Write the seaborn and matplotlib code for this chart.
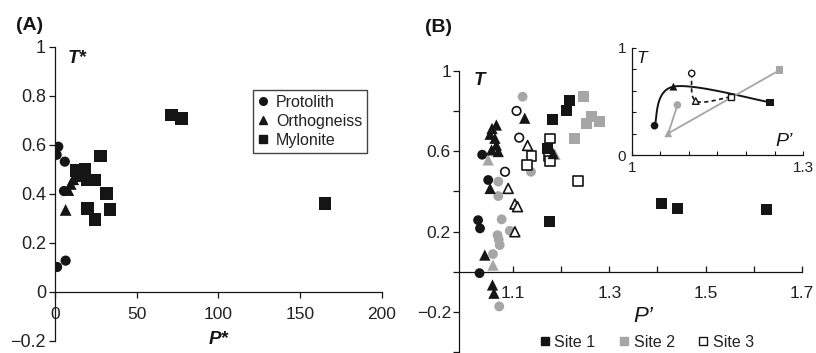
import numpy as np
import pandas as pd
import matplotlib
matplotlib.use("Agg")
import matplotlib.pyplot as plt
from matplotlib.lines import Line2D
import seaborn as sns

sns.set_theme(style="white")
plt.rcParams["font.family"] = ["Liberation Sans", "DejaVu Sans"]

BLACK = "#151515"
GRAY = "#a6a6a6"
TEXT = "#222222"

# ---------------- Panel A: P* vs T* by rock type ----------------
protolith_p = [2.0, 1.0, 6.0, 5.5, 1.3, 6.5]
protolith_t = [0.593, 0.560, 0.532, 0.412, 0.102, 0.128]
ortho_p = [6.5, 8.1, 9.6, 11.2, 12.8]
ortho_t = [0.335, 0.416, 0.441, 0.460, 0.478]
mylo_p = [71.4, 77.5, 165.1, 28.0, 18.3, 12.8, 15.3, 19.8, 24.5, 31.6, 33.6, 19.8, 24.5]
mylo_t = [0.722, 0.709, 0.362, 0.555, 0.500, 0.495, 0.473, 0.457, 0.457, 0.403, 0.338, 0.342, 0.297]

# ---------------- Panel B: P' vs T by site and rock type ----------------
s1_circ_p = [1.0355, 1.048, 1.027, 1.031, 1.030]
s1_circ_t = [0.583, 0.457, 0.257, 0.216, -0.007]
s1_tri_p = [1.056, 1.065, 1.052, 1.062, 1.065, 1.069, 1.055, 1.124, 1.052, 1.041, 1.057, 1.060, 1.183]
s1_tri_t = [0.714, 0.731, 0.685, 0.665, 0.631, 0.599, 0.607, 0.765, 0.415, 0.083, -0.066, -0.107, 0.589]
s1_sq_p = [1.2165, 1.211, 1.182, 1.1715, 1.176, 1.409, 1.442, 1.626]
s1_sq_t = [0.852, 0.803, 0.757, 0.615, 0.249, 0.342, 0.317, 0.312]

s2_circ_p = [1.1196, 1.137, 1.069, 1.069, 1.076, 1.093, 1.0675, 1.070, 1.072, 1.058, 1.071]
s2_circ_t = [0.872, 0.498, 0.449, 0.377, 0.261, 0.204, 0.182, 0.160, 0.133, 0.088, -0.173]
s2_tri_p = [1.048, 1.058, 1.187]
s2_tri_t = [0.557, 0.033, 0.585]
s2_sq_p = [1.247, 1.263, 1.279, 1.253, 1.228]
s2_sq_t = [0.874, 0.775, 0.748, 0.738, 0.664]

s3_circ_p = [1.107, 1.1125, 1.083]
s3_circ_t = [0.801, 0.668, 0.498]
s3_tri_p = [1.130, 1.0896, 1.1035, 1.109, 1.1035]
s3_tri_t = [0.629, 0.415, 0.337, 0.324, 0.199]
s3_sq_p = [1.176, 1.138, 1.128, 1.175, 1.176, 1.235]
s3_sq_t = [0.664, 0.578, 0.532, 0.575, 0.553, 0.453]

# Site means (protolith -> orthogneiss -> mylonite) for the inset
mean_s1_p = [1.040, 1.073, 1.242]
mean_s1_t = [0.273, 0.637, 0.491]
mean_s2_p = [1.080, 1.064, 1.259]
mean_s2_t = [0.466, 0.202, 0.792]
mean_s3_p = [1.105, 1.112, 1.174]
mean_s3_t = [0.761, 0.503, 0.543]

rock_types = ["Protolith", "Orthogneiss", "Mylonite"]
rock_markers = {"Protolith": "o", "Orthogneiss": "^", "Mylonite": "s"}
site_names = ["Site 1", "Site 2", "Site 3"]


def long_frame(groups):
    rows = []
    for rock, xs, ys in groups:
        for x, y in zip(xs, ys):
            rows.append({"P": x, "T": y, "rock": rock})
    return pd.DataFrame(rows)


def smooth(xs, ys, n=60):
    """Cardinal (Catmull-Rom style) Bezier smoothing through the given points."""
    pts = np.column_stack([xs, ys]).astype(float)
    out = []
    m = len(pts)
    for i in range(m - 1):
        p0, p1 = pts[i], pts[i + 1]
        prev = pts[i - 1] if i > 0 else p0
        nxt = pts[i + 2] if i + 2 < m else p1
        c1 = p0 + (p1 - prev) / 6.0
        c2 = p1 - (nxt - p0) / 6.0
        t = np.linspace(0, 1, n)[:, None]
        seg = ((1 - t) ** 3) * p0 + 3 * ((1 - t) ** 2) * t * c1 + 3 * (1 - t) * t ** 2 * c2 + t ** 3 * p1
        out.append(seg if i == 0 else seg[1:])
    seg = np.vstack(out)
    return seg[:, 0], seg[:, 1]


def fmt(v):
    s = f"{round(v, 2):g}"
    return s.replace("-", "\u2212")


fig = plt.figure(figsize=(8.16, 3.53), dpi=100)

# ======================= Panel A =======================
axA = fig.add_axes([0.0674, 0.034, 0.4007, 0.8329])
dfA = long_frame([("Protolith", protolith_p, protolith_t),
                  ("Orthogneiss", ortho_p, ortho_t),
                  ("Mylonite", mylo_p, mylo_t)])
sns.scatterplot(data=dfA, x="P", y="T", style="rock", markers=rock_markers,
                size="rock", sizes={"Protolith": 54, "Orthogneiss": 72, "Mylonite": 84},
                color=BLACK, edgecolor=BLACK, linewidth=0, ax=axA, legend=False, zorder=3)
axA.set_xlim(0, 200)
axA.set_ylim(-0.2, 1.0)
axA.spines["top"].set_visible(False)
axA.spines["right"].set_visible(False)
axA.spines["bottom"].set_position(("data", 0))
for sp in ("left", "bottom"):
    axA.spines[sp].set_color(BLACK)
    axA.spines[sp].set_linewidth(0.9)
xtA = [0, 50, 100, 150, 200]
ytA = [-0.2, 0, 0.2, 0.4, 0.6, 0.8, 1.0]
axA.set_xticks(xtA)
axA.set_xticklabels([fmt(v) for v in xtA])
axA.set_yticks(ytA)
axA.set_yticklabels([fmt(v) for v in ytA])
axA.tick_params(axis="x", direction="out", length=4, width=0.9, pad=7, labelsize=12.5,
                colors=BLACK, labelcolor=TEXT, bottom=True)
axA.tick_params(axis="y", direction="out", length=4, width=0.9, pad=2.5, labelsize=13,
                colors=BLACK, labelcolor=TEXT, left=True)
axA.set_xlabel("")
axA.set_ylabel("")
axA.text(0.04, 0.961, "T*", transform=axA.transAxes, ha="left", va="center",
         fontsize=13.5, fontweight="bold", fontstyle="italic", color=BLACK)
axA.text(100, -0.195, "P*", ha="center", va="center", fontsize=13.5,
         fontweight="bold", fontstyle="italic", color=BLACK, clip_on=False)
handlesA = [Line2D([], [], marker=rock_markers[r], linestyle="", color=BLACK, markersize=5.5)
            for r in rock_types]
legA = axA.legend(handlesA, rock_types, loc="upper left", bbox_to_anchor=(0.6055, 0.853),
                  borderaxespad=0, frameon=True, fancybox=False, fontsize=11.5,
                  handlelength=0.7, handletextpad=0.45, borderpad=0.3, labelspacing=0.25)
legA.get_frame().set_edgecolor(BLACK)
legA.get_frame().set_linewidth(1.0)
for t in legA.get_texts():
    t.set_color(TEXT)

# ======================= Panel B =======================
axB = fig.add_axes([0.5629, 0.0028, 0.4196, 0.796])
site_style = {
    "Site 1": dict(color=BLACK, edgecolor=BLACK, linewidth=0),
    "Site 2": dict(color=GRAY, edgecolor=GRAY, linewidth=0),
    "Site 3": dict(color="white", edgecolor=BLACK, linewidth=1.2),
}
site_groups = {
    "Site 2": [("Protolith", s2_circ_p, s2_circ_t), ("Orthogneiss", s2_tri_p, s2_tri_t),
               ("Mylonite", s2_sq_p, s2_sq_t)],
    "Site 3": [("Protolith", s3_circ_p, s3_circ_t), ("Orthogneiss", s3_tri_p, s3_tri_t),
               ("Mylonite", s3_sq_p, s3_sq_t)],
    "Site 1": [("Protolith", s1_circ_p, s1_circ_t), ("Orthogneiss", s1_tri_p, s1_tri_t),
               ("Mylonite", s1_sq_p, s1_sq_t)],
}
for site in ["Site 2", "Site 3", "Site 1"]:
    df = long_frame(site_groups[site])
    st = site_style[site]
    sizes = {"Protolith": 50, "Orthogneiss": 66, "Mylonite": 62}
    if site == "Site 3":
        sizes = {"Protolith": 38, "Orthogneiss": 50, "Mylonite": 50}
    sns.scatterplot(data=df, x="P", y="T", style="rock", markers=rock_markers,
                    size="rock", sizes=sizes, color=st["color"], edgecolor=st["edgecolor"],
                    linewidth=st["linewidth"], ax=axB, legend=False, zorder=3)
axB.set_xlim(0.988, 1.7)
axB.set_ylim(-0.4, 1.0)
axB.spines["top"].set_visible(False)
axB.spines["right"].set_visible(False)
axB.spines["bottom"].set_position(("data", 0))
for sp in ("left", "bottom"):
    axB.spines[sp].set_color(BLACK)
    axB.spines[sp].set_linewidth(0.9)
xtB = [1.1, 1.2, 1.3, 1.4, 1.5, 1.6, 1.7]
ytB = [-0.4, -0.2, 0, 0.2, 0.4, 0.6, 0.8, 1.0]
axB.set_xticks(xtB)
axB.set_xticklabels([fmt(v) if round(v, 1) in (1.1, 1.3, 1.5, 1.7) else "" for v in xtB])
axB.set_yticks(ytB)
axB.set_yticklabels([fmt(v) if round(v, 1) in (-0.2, 0.2, 0.6, 1.0) else "" for v in ytB])
axB.tick_params(axis="x", direction="in", length=4, width=0.9, pad=10, labelsize=12.5,
                colors=BLACK, labelcolor=TEXT, bottom=True)
axB.tick_params(axis="y", direction="out", length=4, width=0.9, pad=2, labelsize=12.5,
                colors=BLACK, labelcolor=TEXT, left=True)
axB.set_xlabel("")
axB.set_ylabel("")
axB.text(0.06, 0.968, "T", transform=axB.transAxes, ha="center", va="center",
         fontsize=13.5, fontweight="bold", fontstyle="italic", color=BLACK)
axB.text(1.37, -0.221, "P\u2019", ha="center", va="center", fontsize=16,
         fontstyle="italic", color=BLACK)
handlesB = [Line2D([], [], marker="s", linestyle="", markersize=5.5,
                   markerfacecolor=fc, markeredgecolor=ec, markeredgewidth=1.0)
            for fc, ec in [(BLACK, BLACK), (GRAY, GRAY), ("white", BLACK)]]
legB = axB.legend(handlesB, site_names, loc="center", bbox_to_anchor=(0.548, 0.034),
                  ncol=3, frameon=False, fontsize=11.5, handlelength=0.6,
                  handletextpad=0.3, columnspacing=1.5, borderaxespad=0)
for t in legB.get_texts():
    t.set_color(TEXT)

# ======================= Inset: site means =======================
axI = fig.add_axes([0.7741, 0.5609, 0.2103, 0.304])
axI.set_facecolor("white")
sx, sy = smooth(mean_s1_p, mean_s1_t)
sns.lineplot(x=sx, y=sy, sort=False, estimator=None, color=BLACK, linewidth=1.4, ax=axI, zorder=2)
sns.lineplot(x=mean_s2_p, y=mean_s2_t, sort=False, estimator=None, color=GRAY,
             linewidth=1.3, ax=axI, zorder=2)
dx, dy = smooth(mean_s3_p, mean_s3_t)
sns.lineplot(x=dx, y=dy, sort=False, estimator=None, color=BLACK, linewidth=1.2,
             linestyle=(0, (2.5, 2)), ax=axI, zorder=2)
for site, xs, ys in [("Site 1", mean_s1_p, mean_s1_t), ("Site 2", mean_s2_p, mean_s2_t),
                     ("Site 3", mean_s3_p, mean_s3_t)]:
    df = pd.DataFrame({"P": xs, "T": ys, "rock": rock_types})
    st = site_style[site]
    sizes = {"Protolith": 30, "Orthogneiss": 32, "Mylonite": 28}
    if site == "Site 3":
        sizes = {"Protolith": 20, "Orthogneiss": 22, "Mylonite": 20}
    sns.scatterplot(data=df, x="P", y="T", style="rock", markers=rock_markers,
                    size="rock", sizes=sizes, color=st["color"], edgecolor=st["edgecolor"],
                    linewidth=1.0 if site == "Site 3" else 0, ax=axI, legend=False, zorder=4)
axI.set_xlim(1.0, 1.3)
axI.set_ylim(0, 1.0)
axI.spines["top"].set_visible(False)
axI.spines["right"].set_visible(False)
for sp in ("left", "bottom"):
    axI.spines[sp].set_color(BLACK)
    axI.spines[sp].set_linewidth(0.9)
xtI = [1.0, 1.05, 1.1, 1.15, 1.2, 1.25, 1.3]
ytI = [0, 0.2, 0.4, 0.6, 0.8, 1.0]
axI.set_xticks(xtI)
axI.set_xticklabels([fmt(v) if round(v, 2) in (1.0, 1.3) else "" for v in xtI])
axI.set_yticks(ytI)
axI.set_yticklabels([fmt(v) if round(v, 1) in (0, 1.0) else "" for v in ytI])
axI.tick_params(axis="both", direction="in", length=3, width=0.8, pad=4, labelsize=11,
                colors=BLACK, labelcolor=TEXT, bottom=True, left=True)
axI.set_xlabel("")
axI.set_ylabel("")
axI.text(0.06, 0.90, "T", transform=axI.transAxes, ha="center", va="center",
         fontsize=12.5, fontstyle="italic", color=BLACK)
axI.text(0.888, 0.126, "P\u2019", transform=axI.transAxes, ha="center", va="center",
         fontsize=14, fontstyle="italic", color=BLACK)

# Panel letters
fig.text(0.036, 0.929, "(A)", ha="center", va="center", fontsize=14, fontweight="bold", color=BLACK)
fig.text(0.537, 0.923, "(B)", ha="center", va="center", fontsize=14, fontweight="bold", color=BLACK)

fig.savefig("out.png", dpi=100, facecolor="white")
